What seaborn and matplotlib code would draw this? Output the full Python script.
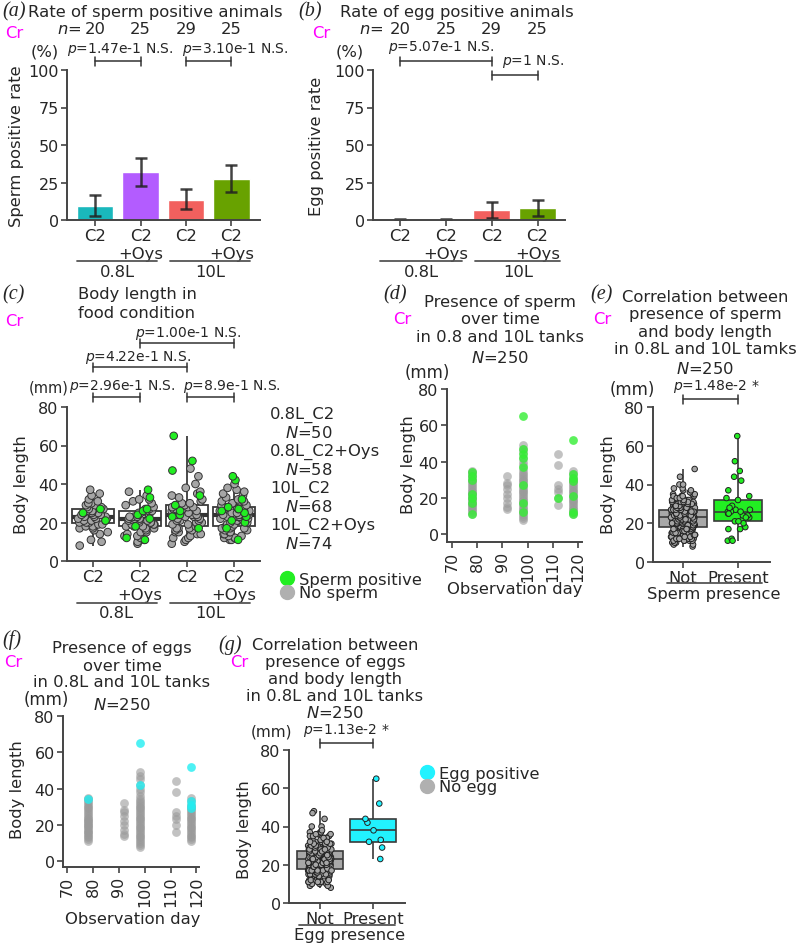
import matplotlib
matplotlib.use("Agg")
import matplotlib.pyplot as plt
import matplotlib.transforms as mtransforms
from matplotlib.lines import Line2D
import seaborn as sns
import pandas as pd
import numpy as np

W, H = 798, 945

# ---------------- data ----------------
group_keys = ["0.8L_C2", "0.8L_C2+Oys", "10L_C2", "10L_C2+Oys"]
group_ticklabels = ["C2", "C2\n+Oys", "C2", "C2\n+Oys"]
tank_labels = ["0.8L", "10L"]
bar_colors = ["#1ab8bc", "#b35cff", "#f2605e", "#68a200"]

# (a) sperm positive rate (%)
rate_n = [20, 25, 29, 25]
sperm_rate = [9.5, 32, 13.5, 27.5]
sperm_low = [3, 22.5, 7.5, 19]
sperm_high = [17, 41.5, 20.5, 37]
sperm_rate_p = ["1.47e-1", "3.10e-1"]

# (b) egg positive rate (%)
egg_rate = [0, 0, 6.5, 8]
egg_low = [0, 0, 1.5, 2.5]
egg_high = [0.6, 0.6, 12, 13.5]
egg_rate_p = ["5.07e-1", "1"]

# (c) body length (mm) per group, split by sperm status
group_N = [50, 58, 68, 74]
body_p = ["2.96e-1", "8.9e-1", "4.22e-1", "1.00e-1"]
len_08_c2_no = [8, 10, 11, 14, 15, 16, 17, 17, 18, 18, 19, 19, 20, 20, 20, 21, 21, 21, 22, 22,
                22, 22, 23, 23, 23, 24, 24, 24, 25, 25, 25, 26, 26, 26, 27, 27, 28, 28, 29, 29,
                30, 30, 31, 32, 34, 35, 37]
len_08_c2_yes = [21, 25, 27]
len_08_oys_no = [9, 10, 11, 12, 13, 13, 14, 15, 15, 16, 17, 17, 18, 18, 18, 19, 19, 19, 20, 20,
                 20, 21, 21, 21, 21, 22, 22, 22, 22, 23, 23, 23, 24, 24, 24, 25, 25, 26, 26, 27,
                 27, 28, 29, 30, 31, 32, 32, 34, 36]
len_08_oys_yes = [11, 12, 18, 22, 24, 26, 27, 33, 37]
len_10_c2_no = [9, 10, 11, 12, 12, 13, 14, 14, 15, 15, 16, 16, 17, 17, 17, 18, 18, 19, 19, 20,
                20, 21, 21, 21, 22, 22, 23, 23, 23, 24, 24, 24, 25, 25, 25, 25, 26, 26, 26, 27,
                27, 27, 28, 28, 28, 29, 29, 30, 30, 31, 32, 33, 34, 35, 36, 38, 40, 44, 48]
len_10_c2_yes = [17, 23, 24, 26, 29, 34, 47, 52, 65]
len_10_oys_no = [11, 11, 12, 12, 12, 13, 13, 14, 14, 15, 15, 16, 16, 17, 17, 17, 18, 18, 19, 19,
                 20, 20, 21, 21, 22, 22, 22, 22, 23, 23, 23, 24, 24, 24, 24, 25, 25, 25, 26, 26,
                 26, 27, 27, 27, 28, 28, 28, 29, 29, 30, 30, 31, 31, 31, 32, 33, 34, 35, 36, 37,
                 38, 40]
len_10_oys_yes = [11, 17, 20, 21, 23, 25, 26, 27, 28, 32, 42, 44]

# (d)/(f) body length by observation day
obs_days = [78, 92, 98, 112, 118]
day_lengths = [
    [11, 12, 13, 14, 15, 16, 16, 17, 18, 19, 20, 20, 21, 22, 22, 23, 24, 25, 26, 27, 28, 29,
     30, 31, 32, 33, 34, 35],
    [14, 15, 17, 20, 22, 25, 27, 28, 32],
    [8, 9, 10, 11, 12, 13, 14, 15, 16, 17, 18, 19, 20, 21, 22, 23, 24, 25, 26, 27, 28, 29,
     30, 31, 32, 33, 34, 36, 38, 40, 42, 45, 47, 49],
    [16, 20, 23, 25, 27, 38, 44],
    [11, 12, 13, 14, 15, 16, 17, 18, 19, 20, 21, 22, 23, 24, 25, 26, 27, 28, 29, 30, 31, 33, 35],
]
day_sperm = [[11, 17, 20, 22, 30, 32, 34], [], [12, 17, 27, 37, 42, 44, 47, 65], [20],
             [11, 12, 21, 29, 31, 33, 52]]
day_egg = [[34], [], [42, 65], [], [29, 31, 33, 52]]

# (e)/(g)
sperm_p = "1.48e-2 *"
egg_p = "1.13e-2 *"
egg_lengths = [23, 29, 32, 33, 38, 42, 44, 52, 65]

# ---------------- tables ----------------
no_lists = [len_08_c2_no, len_08_oys_no, len_10_c2_no, len_10_oys_no]
yes_lists = [len_08_c2_yes, len_08_oys_yes, len_10_c2_yes, len_10_oys_yes]
rows = []
for key, no, yes in zip(group_keys, no_lists, yes_lists):
    rows += [(key, v, "No sperm") for v in no]
    rows += [(key, v, "Sperm positive") for v in yes]
body = pd.DataFrame(rows, columns=["group", "length", "sperm"])
body["presence"] = np.where(body["sperm"] == "Sperm positive", "Present", "Not")

no_egg = body["length"].tolist()
for v in egg_lengths:
    no_egg.remove(v)
egg_df = pd.DataFrame({"presence": ["Not"] * len(no_egg) + ["Present"] * len(egg_lengths),
                       "length": no_egg + egg_lengths})


def day_table(lists):
    return pd.DataFrame([(d, v) for d, vals in zip(obs_days, lists) for v in vals],
                        columns=["day", "length"])


days_all = day_table(day_lengths)
days_sperm = day_table(day_sperm)
days_egg = day_table(day_egg)

# ---------------- figure ----------------
sns.set_style("ticks")
plt.rcParams["font.family"] = ["DejaVu Sans"]
plt.rcParams["mathtext.fontset"] = "dejavusans"
np.random.seed(7)

fig = plt.figure(figsize=(W / 100, H / 100), dpi=100)
LINE = "#444444"
GRAY_PT = "#a6a6a6"
GREEN = "#22ee22"
CYAN = "#22f2ff"
MAGENTA = "#ff00ff"
FS = 11.8
TICK = 11.5
PFS = 10


def px_axes(left, top, right, bottom):
    return fig.add_axes([left / W, 1 - bottom / H, (right - left) / W, (bottom - top) / H])


def ftext(x, y, s, **kw):
    kw.setdefault("va", "center")
    kw.setdefault("fontsize", FS)
    fig.text(x / W, 1 - y / H, s, **kw)


def panel_tag(x, y, letter, cr_x, cr_y):
    ftext(x, y, f"({letter})", family="Liberation Serif", style="italic", fontsize=14.5)
    ftext(cr_x, cr_y, "Cr", color=MAGENTA)


def style(ax):
    sns.despine(ax=ax)
    for s in ("left", "bottom"):
        ax.spines[s].set_color(LINE)
        ax.spines[s].set_linewidth(1.4)
    ax.tick_params(length=4, width=1.2, color=LINE, labelsize=TICK, pad=2)
    ax.set_xlabel("")
    ax.set_ylabel("")


def fig_line(ax, x0, x1, y, **kw):
    tr = mtransforms.blended_transform_factory(ax.transData, fig.transFigure)
    fig.add_artist(Line2D([x0, x1], [1 - y / H, 1 - y / H], transform=tr, **kw))


def bracket(ax, x0, x1, y, text, tx, ty):
    kw = dict(color="#333333", lw=1.1)
    fig_line(ax, x0, x1, y, **kw)
    tr = mtransforms.blended_transform_factory(ax.transData, fig.transFigure)
    for x in (x0, x1):
        fig.add_artist(Line2D([x, x], [1 - (y - 4.5) / H, 1 - (y + 4.5) / H], transform=tr,
                              **kw))
    ftext(tx, ty, text, fontsize=PFS)


def tank_lines(ax, y_line, y_text, spans):
    tr = mtransforms.blended_transform_factory(ax.transData, fig.transFigure)
    for (x0, x1), lab in zip(spans, tank_labels):
        fig_line(ax, x0, x1, y_line, color="#555555", lw=1.3)
        fig.text((x0 + x1) / 2, 1 - y_text / H, lab, transform=tr, ha="center", va="center",
                 fontsize=FS)


def rate_panel(ax, rate, low, high):
    sns.barplot(x=group_keys, y=rate, hue=group_keys, palette=bar_colors, saturation=1,
                width=0.8, errorbar=None, legend=False, ax=ax)
    yerr = [[r - l for r, l in zip(rate, low)], [h - r for r, h in zip(rate, high)]]
    ax.errorbar(range(4), rate, yerr=yerr, fmt="none", ecolor="#222222", elinewidth=1.8,
                capsize=4.5, capthick=1.8, alpha=0.85)
    style(ax)
    ax.set_ylim(0, 100)
    ax.set_yticks([0, 25, 50, 75, 100])
    ax.set_xticks(range(4))
    ax.set_xticklabels(group_ticklabels, fontsize=FS)
    tr = mtransforms.blended_transform_factory(ax.transData, fig.transFigure)
    for i, n in enumerate(rate_n):
        fig.text(i, 1 - 30 / H, str(n), transform=tr, ha="center", va="center", fontsize=FS)


# ---- (a) ----
ax_a = px_axes(67, 71, 260, 221)
rate_panel(ax_a, sperm_rate, sperm_low, sperm_high)
ax_a.set_xlim(-0.62, 3.63)
panel_tag(2, 12, "a", 5, 33)
ftext(28, 12, "Rate of sperm positive animals")
ftext(81, 30, "$n$=", ha="right")
ftext(31, 52, "(%)")
ftext(17, 146, "Sperm positive rate", rotation=90, ha="center")
bracket(ax_a, 0, 1, 62, f"$p$={sperm_rate_p[0]} N.S.", 67, 49)
bracket(ax_a, 2, 3, 62, f"$p$={sperm_rate_p[1]} N.S.", 182, 49)
tank_lines(ax_a, 262, 273, [(-0.4, 1.36), (1.65, 3.4)])

# ---- (b) ----
ax_b = px_axes(373, 71, 565, 221)
rate_panel(ax_b, egg_rate, egg_low, egg_high)
ax_b.set_xlim(-0.59, 3.6)
panel_tag(298, 12, "b", 312, 33)
ftext(340, 12, "Rate of egg positive animals")
ftext(383, 30, "$n$=", ha="right")
ftext(336, 52, "(%)")
ftext(317, 146, "Egg positive rate", rotation=90, ha="center")
bracket(ax_b, 0, 2, 62, f"$p$={egg_rate_p[0]} N.S.", 388, 47)
bracket(ax_b, 2, 3, 76, f"$p$={egg_rate_p[1]} N.S.", 502, 62)
tank_lines(ax_b, 262, 273, [(-0.44, 1.36), (1.64, 3.5)])

# ---- (c) ----
ax_c = px_axes(67, 408, 260, 562)
sns.boxplot(data=body, x="group", y="length", order=group_keys, color="white", width=0.9,
            whis=(0, 100), showfliers=False, showcaps=False, linecolor="#3a3a3a",
            linewidth=1.3, medianprops={"linewidth": 3, "color": "#333333"}, ax=ax_c)
sns.stripplot(data=body, x="group", y="length", order=group_keys, hue="sperm",
              hue_order=["No sperm", "Sperm positive"], palette=[GRAY_PT, GREEN], jitter=0.33,
              size=5.5, edgecolor="#333333", linewidth=0.7, legend=False, ax=ax_c)
style(ax_c)
ax_c.set_ylim(0, 80)
ax_c.set_yticks([0, 20, 40, 60, 80])
ax_c.set_xlim(-0.55, 3.55)
ax_c.set_xticks(range(4))
ax_c.set_xticklabels(group_ticklabels, fontsize=FS)
panel_tag(2, 295, "c", 5, 322)
ftext(137, 295, "Body length in", ha="center")
ftext(137, 313, "food condition", ha="center")
ftext(29, 388, "(mm)", fontsize=10.5)
ftext(22, 485, "Body length", rotation=90, ha="center")
bracket(ax_c, 1, 3, 344, f"$p$={body_p[3]} N.S.", 135, 333)
bracket(ax_c, 0, 2, 368, f"$p$={body_p[2]} N.S.", 85, 357)
bracket(ax_c, 0, 1, 398, f"$p$={body_p[0]} N.S.", 69, 387)
bracket(ax_c, 2, 3, 398, f"$p$={body_p[1]} N.S.", 183, 387)
tank_lines(ax_c, 604, 614, [(-0.34, 1.36), (1.64, 3.34)])
for i, (key, n) in enumerate(zip(group_keys, group_N)):
    ftext(270, 415 + 37 * i, key)
    ftext(285, 433 + 37 * i, f"$N$={n}")
ax_c.legend(handles=[Line2D([], [], marker="o", ls="", color=GREEN, ms=10),
                     Line2D([], [], marker="o", ls="", color="#b0b0b0", ms=10)],
            labels=["Sperm positive", "No sperm"], loc="upper left",
            bbox_to_anchor=(279 / W, 1 - 573 / H), bbox_transform=fig.transFigure,
            frameon=False, handletextpad=0.2, labelspacing=-0.1, borderpad=0,
            borderaxespad=0, handlelength=1.0, fontsize=FS)


def day_panel(ax, pos_df, pos_color):
    sns.scatterplot(data=days_all, x="day", y="length", color="#9a9a9a", alpha=0.6, s=40,
                    linewidth=0, ax=ax)
    sns.scatterplot(data=pos_df, x="day", y="length", color=pos_color, alpha=0.8, s=40,
                    linewidth=0, ax=ax)
    style(ax)
    ax.set_xticks([70, 80, 90, 100, 110, 120])
    ax.set_yticks([0, 20, 40, 60, 80])
    ax.tick_params(axis="x", labelrotation=90)


# ---- (d) ----
ax_d = px_axes(447, 390, 582, 543)
day_panel(ax_d, days_sperm, "#33ee33")
ax_d.set_xlim(68, 121.6)
ax_d.set_ylim(-4.4, 80)
panel_tag(383, 295, "d", 393, 320)
for t, y in zip(["Presence of sperm", "over time", "in 0.8 and 10L tanks", "$N$=250"],
                [302, 319, 337, 358]):
    ftext(500, y, t, ha="center")
ftext(427, 373, "(mm)", ha="center", fontsize=12)
ftext(408, 465, "Body length", rotation=90, ha="center")
ftext(515, 590, "Observation day", ha="center")


def presence_panel(ax, df, pos_color, pos_box):
    sns.boxplot(data=df, x="presence", y="length", order=["Not", "Present"], hue="presence",
                hue_order=["Not", "Present"], palette=["#a8a8a8", pos_box], saturation=1,
                width=0.86, whis=(0, 100), showfliers=False, showcaps=False,
                linecolor="#3a3a3a", linewidth=1.2, legend=False, ax=ax)
    sns.stripplot(data=df, x="presence", y="length", order=["Not", "Present"], hue="presence",
                  hue_order=["Not", "Present"], palette=[GRAY_PT, pos_color], jitter=0.22,
                  size=4, edgecolor="#222222", linewidth=0.7, legend=False, ax=ax)
    style(ax)
    ax.set_ylim(0, 80)
    ax.set_yticks([0, 20, 40, 60, 80])
    ax.set_xticks([0, 1])
    ax.set_xticklabels(["Not", "Present"], fontsize=FS)


# ---- (e) ----
ax_e = px_axes(653, 408, 770, 563)
presence_panel(ax_e, body, GREEN, GREEN)
ax_e.set_xlim(-0.545, 1.58)
panel_tag(590, 295, "e", 593, 320)
for t, y in zip(["Correlation between", "presence of sperm", "and body length",
                 "in 0.8L and 10L tamks", "$N$=250"], [297, 315, 333, 350, 369]):
    ftext(705, y, t, ha="center")
ftext(632, 390, "(mm)", ha="center", fontsize=12)
ftext(608, 485, "Body length", rotation=90, ha="center")
bracket(ax_e, 0, 1, 400, f"$p$={sperm_p}", 673, 387)
fig_line(ax_e, -0.29, 1.44, 584, color="#555555", lw=1.3)
ftext(714, 594, "Sperm presence", ha="center")

# ---- (f) ----
ax_f = px_axes(63, 717, 199, 868)
day_panel(ax_f, days_egg, "#22eef2")
ax_f.set_xlim(68.4, 121)
ax_f.set_ylim(-3.3, 80)
panel_tag(2, 640, "f", 4, 663)
for t, y in zip(["Presence of eggs", "over time", "in 0.8L and 10L tanks", "$N$=250"],
                [649, 667, 683, 705]):
    ftext(122, y, t, ha="center")
ftext(46, 700, "(mm)", ha="center", fontsize=12)
ftext(18, 790, "Body length", rotation=90, ha="center")
ftext(133, 920, "Observation day", ha="center")

# ---- (g) ----
ax_g = px_axes(289, 751, 405, 904)
presence_panel(ax_g, egg_df, CYAN, CYAN)
ax_g.set_xlim(-0.58, 1.6)
panel_tag(218, 645, "g", 230, 663)
for t, y in zip(["Correlation between", "presence of eggs", "and body length",
                 "in 0.8L and 10L tanks", "$N$=250"], [646, 663, 680, 697, 713]):
    ftext(335, y, t, ha="center")
ftext(271, 732, "(mm)", ha="center", fontsize=11)
ftext(245, 830, "Body length", rotation=90, ha="center")
bracket(ax_g, 0, 1, 744, f"$p$={egg_p}", 303, 731)
fig_line(ax_g, -0.4, 1.42, 926, color="#555555", lw=1.3)
ftext(350, 936, "Egg presence", ha="center")
ax_g.legend(handles=[Line2D([], [], marker="o", ls="", color=CYAN, ms=10),
                     Line2D([], [], marker="o", ls="", color="#b0b0b0", ms=10)],
            labels=["Egg positive", "No egg"], loc="upper left",
            bbox_to_anchor=(419 / W, 1 - 767 / H), bbox_transform=fig.transFigure,
            frameon=False, handletextpad=0.2, labelspacing=-0.1, borderpad=0,
            borderaxespad=0, handlelength=1.0, fontsize=FS)

fig.savefig("out.png", dpi=100)
